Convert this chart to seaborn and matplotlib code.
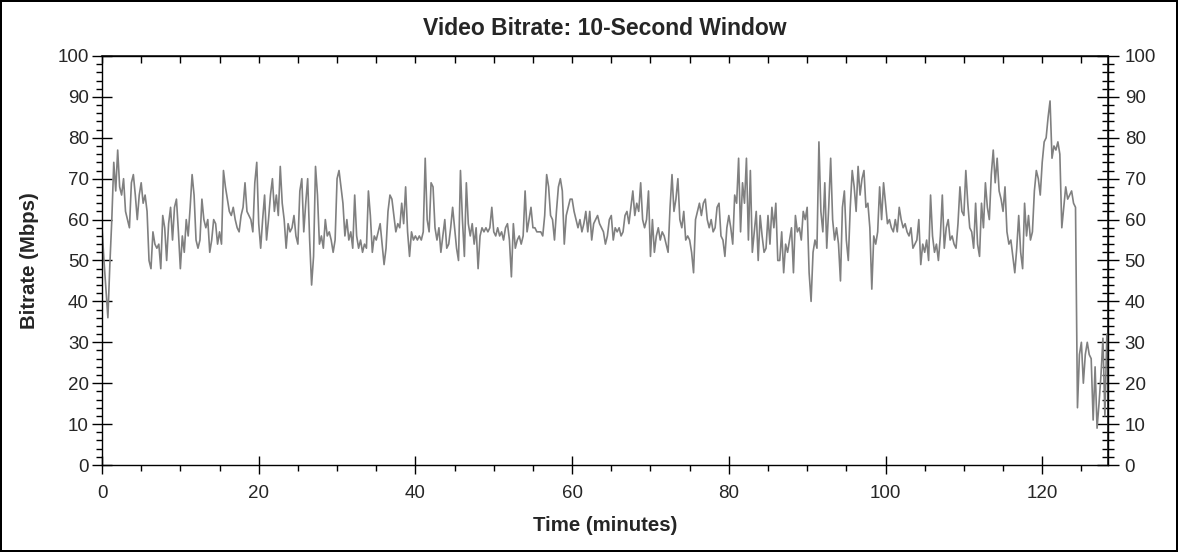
import numpy as np
import pandas as pd
import matplotlib
matplotlib.use("Agg")
import matplotlib.pyplot as plt
import seaborn as sns
from matplotlib.ticker import MultipleLocator

# bitrate (Mbps), one reading every 15 seconds
step_min = 0.25
bitrate = [
    58, 50, 43, 36, 49, 60, 74, 67, 77, 68, 66, 70, 62, 60, 58, 69,
    71, 66, 60, 66, 69, 64, 66, 62, 50, 48, 57, 54, 53, 54, 48, 61,
    58, 50, 59, 63, 55, 63, 65, 57, 48, 56, 52, 60, 56, 63, 71, 66,
    55, 53, 55, 65, 60, 58, 60, 52, 55, 60, 59, 54, 57, 54, 72, 68,
    65, 62, 61, 63, 60, 58, 57, 61, 63, 69, 62, 61, 60, 57, 69, 74,
    59, 53, 60, 66, 55, 60, 66, 70, 62, 66, 61, 73, 64, 60, 53, 59,
    57, 58, 61, 56, 54, 67, 70, 57, 64, 70, 55, 44, 51, 73, 66, 54,
    56, 53, 60, 56, 57, 55, 52, 55, 70, 72, 68, 64, 56, 60, 55, 57,
    53, 66, 56, 53, 55, 52, 54, 53, 67, 61, 52, 56, 55, 57, 59, 54,
    49, 53, 62, 66, 65, 61, 57, 59, 58, 64, 59, 68, 57, 51, 57, 55,
    56, 55, 56, 55, 57, 75, 60, 57, 69, 68, 58, 55, 58, 52, 56, 60,
    53, 54, 58, 63, 58, 53, 50, 72, 60, 51, 69, 59, 56, 59, 54, 58,
    48, 56, 58, 57, 58, 57, 58, 63, 57, 56, 58, 56, 57, 55, 58, 59,
    55, 46, 59, 53, 55, 56, 54, 56, 67, 57, 60, 63, 58, 58, 57, 57,
    57, 56, 61, 71, 68, 61, 60, 55, 62, 68, 70, 67, 54, 61, 63, 65,
    65, 62, 60, 58, 60, 57, 59, 62, 57, 62, 55, 59, 60, 61, 59, 58,
    57, 54, 56, 60, 61, 55, 58, 57, 58, 56, 57, 61, 62, 59, 63, 67,
    61, 64, 62, 69, 60, 58, 60, 67, 51, 60, 52, 56, 58, 55, 57, 56,
    54, 52, 63, 71, 62, 65, 70, 60, 58, 62, 55, 56, 55, 52, 47, 60,
    62, 64, 61, 64, 65, 60, 58, 60, 57, 58, 63, 64, 56, 55, 51, 58,
    61, 58, 54, 66, 64, 75, 57, 69, 64, 75, 55, 72, 52, 57, 62, 50,
    61, 56, 52, 53, 61, 54, 63, 58, 64, 50, 50, 57, 47, 54, 52, 55,
    58, 47, 61, 57, 58, 55, 62, 60, 63, 47, 40, 52, 55, 53, 79, 62,
    57, 69, 53, 63, 75, 60, 55, 58, 54, 45, 63, 67, 55, 50, 63, 72,
    68, 62, 73, 66, 70, 72, 63, 64, 58, 43, 56, 54, 57, 68, 60, 69,
    64, 59, 60, 58, 57, 60, 57, 63, 60, 58, 59, 57, 56, 58, 53, 54,
    55, 60, 49, 54, 52, 55, 50, 66, 56, 52, 54, 50, 56, 66, 53, 58,
    60, 55, 56, 54, 53, 59, 68, 62, 61, 72, 64, 58, 57, 53, 64, 54,
    51, 64, 58, 69, 63, 60, 71, 77, 69, 75, 67, 65, 62, 68, 57, 54,
    55, 51, 47, 53, 61, 52, 48, 64, 56, 61, 55, 57, 67, 72, 70, 66,
    74, 79, 80, 85, 89, 75, 78, 77, 79, 76, 58, 63, 68, 65, 66, 67,
    64, 63, 14, 27, 30, 20, 27, 30, 27, 26, 11, 24, 9, 15, 22, 31,
    12, 32,
]
minutes = np.arange(len(bitrate)) * step_min

x_ticks = [0, 20, 40, 60, 80, 100, 120]
y_ticks = [0, 10, 20, 30, 40, 50, 60, 70, 80, 90, 100]

df = pd.DataFrame({"Time": minutes, "Bitrate": bitrate})

sns.set_theme(style="white")
plt.rcParams["font.family"] = ["Liberation Sans", "DejaVu Sans"]

fig = plt.figure(figsize=(11.78, 5.52), dpi=100, linewidth=1.5, edgecolor="black")
ax = fig.add_axes([0.0866, 0.1576, 0.854, 0.741])

sns.lineplot(data=df, x="Time", y="Bitrate", color="#808080", linewidth=1.2,
             estimator=None, ax=ax)

ax.set_xlim(0, 128.4)
ax.set_ylim(0, 100)
ax.set_xticks(x_ticks)
ax.set_yticks(y_ticks)
ax.xaxis.set_minor_locator(MultipleLocator(5))
ax.yaxis.set_minor_locator(MultipleLocator(2))

for s in ax.spines.values():
    s.set_color("black")
    s.set_linewidth(1)

ax.tick_params(axis="x", which="major", direction="inout", length=13, width=1,
               color="black", labelsize=13.5, pad=8, bottom=True)
ax.tick_params(axis="x", which="minor", direction="out", length=4, width=1,
               color="black", bottom=True)
ax.tick_params(axis="y", which="major", direction="inout", length=15, width=1,
               color="black", labelsize=13.5, pad=2, left=True)
ax.tick_params(axis="y", which="minor", direction="out", length=4, width=1,
               color="black", left=True)

top = ax.secondary_xaxis("top")
top.set_xticks(x_ticks)
top.xaxis.set_minor_locator(MultipleLocator(5))
top.tick_params(which="both", direction="in", length=5, width=1, color="black",
                labeltop=False)

right = ax.secondary_yaxis("right")
right.set_yticks(y_ticks)
right.yaxis.set_minor_locator(MultipleLocator(2))
right.tick_params(which="major", direction="inout", length=16, width=1,
                  color="black", labelsize=13.5, pad=4)
right.tick_params(which="minor", direction="inout", length=8, width=1,
                  color="black")

ax.set_title("Video Bitrate: 10-Second Window", fontsize=16.5, fontweight="bold", pad=15)
ax.set_xlabel("Time (minutes)", fontsize=14.7, fontweight="bold", labelpad=10)
ax.set_ylabel("Bitrate (Mbps)", fontsize=14.7, fontweight="bold", labelpad=13)

fig.savefig("out.png", dpi=100)
